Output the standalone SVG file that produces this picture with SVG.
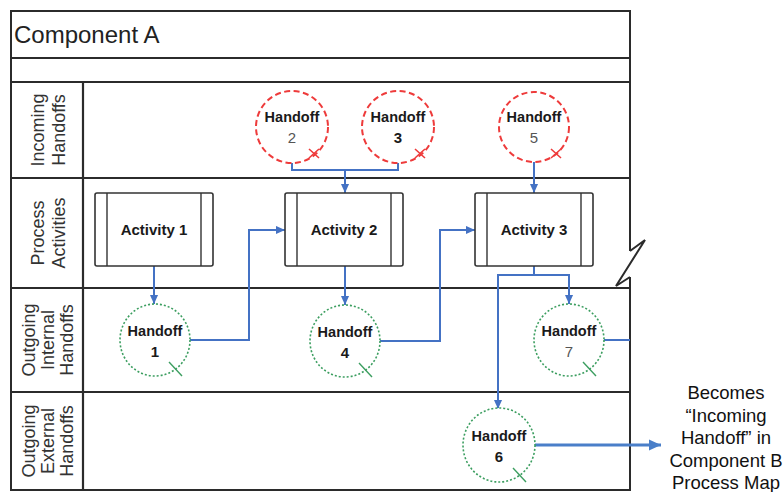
<svg xmlns="http://www.w3.org/2000/svg" width="783" height="492" viewBox="0 0 783 492">
<defs>
<marker id="ah" viewBox="0 0 10 10" refX="10" refY="5" markerWidth="9" markerHeight="9" markerUnits="userSpaceOnUse" orient="auto"><path d="M0,0.5 L10,5 L0,9.5 z" fill="#4472c4"/></marker>
<marker id="ahb" viewBox="0 0 10 10" refX="10" refY="5" markerWidth="12" markerHeight="12" markerUnits="userSpaceOnUse" orient="auto"><path d="M0,0.5 L10,5 L0,9.5 z" fill="#4a7fc9"/></marker>
</defs>
<style>
.frame{fill:none;stroke:#2b2b2b;stroke-width:2}
.lane{stroke:#2b2b2b;stroke-width:2.2;fill:none}
.lbl{font-family:"Liberation Sans",Arial,sans-serif;font-size:18px;fill:#333;text-anchor:middle}
.in{fill:#fff;stroke:#ee3b3b;stroke-width:2;stroke-dasharray:6 3.5}
.out{fill:#fff;stroke:#3c9e60;stroke-width:1.6;stroke-dasharray:2 2}
.xr{stroke:#ee3b3b;stroke-width:1.6}
.xg{stroke:#3c9e60;stroke-width:1.4}
.ht{font-family:"Liberation Sans",Arial,sans-serif;font-size:14.5px;font-weight:bold;fill:#1a1a1a;text-anchor:middle}
.hn{font-family:"Liberation Sans",Arial,sans-serif;font-size:15px;fill:#555;text-anchor:middle}
.hb{font-family:"Liberation Sans",Arial,sans-serif;font-size:15px;font-weight:bold;fill:#1a1a1a;text-anchor:middle}
.act{fill:#fff;stroke:#333;stroke-width:1.6}
.bar{stroke:#333;stroke-width:1.4}
.at{font-family:"Liberation Sans",Arial,sans-serif;font-size:15px;font-weight:bold;fill:#1a1a1a;text-anchor:middle}
.con{fill:none;stroke:#4472c4;stroke-width:2}
.side{font-family:"Liberation Sans",Arial,sans-serif;font-size:18.5px;fill:#111;text-anchor:middle}
</style>
<rect width="783" height="492" fill="#fff"/>
<g id="frame">
<path class="frame" d="M630,251 V11 H11 V490 H630 V277"/>
<path class="frame" d="M630,251 L645,240 L616,286 L630,277" stroke-linejoin="miter"/>
<line class="lane" x1="11" y1="58" x2="630" y2="58"/>
<line class="lane" x1="11" y1="82" x2="630" y2="82"/>
<line class="lane" x1="11" y1="178" x2="630" y2="178"/>
<line class="lane" x1="11" y1="288" x2="630" y2="288"/>
<line class="lane" x1="11" y1="392" x2="630" y2="392"/>
<line class="lane" x1="83" y1="82" x2="83" y2="490"/>
<text x="14" y="43" font-family="'Liberation Sans',Arial,sans-serif" font-size="24" fill="#222">Component A</text>
</g>
<g id="lane-labels">
<g transform="translate(0,130) rotate(-90)"><text class="lbl" x="0" y="44">Incoming</text><text class="lbl" x="0" y="65">Handoffs</text></g>
<g transform="translate(0,233) rotate(-90)"><text class="lbl" x="0" y="44">Process</text><text class="lbl" x="0" y="65">Activities</text></g>
<g transform="translate(0,340) rotate(-90)"><text class="lbl" x="0" y="34.5">Outgoing</text><text class="lbl" x="0" y="53.5">Internal</text><text class="lbl" x="0" y="72.5">Handoffs</text></g>
<g transform="translate(0,441) rotate(-90)"><text class="lbl" x="0" y="34.5">Outgoing</text><text class="lbl" x="0" y="53.5">External</text><text class="lbl" x="0" y="72.5">Handoffs</text></g>
</g>
<g id="connectors">
<path class="con" d="M292,163 V170 H398 V163"/>
<path class="con" d="M345,170 V193" marker-end="url(#ah)"/>
<path class="con" d="M534,162 V193" marker-end="url(#ah)"/>
<path class="con" d="M154,266 V304" marker-end="url(#ah)"/>
<path class="con" d="M190,340 H249 V230 H285" marker-end="url(#ah)"/>
<path class="con" d="M345,266 V305" marker-end="url(#ah)"/>
<path class="con" d="M380,341 H440 V230 H475" marker-end="url(#ah)"/>
<path class="con" d="M534,266 V275 H569 V304" marker-end="url(#ah)"/>
<path class="con" d="M534,275 H498 V409" marker-end="url(#ah)"/>
<path class="con" d="M604,340 H630"/>
<path fill="none" stroke="#4a7fc9" stroke-width="3" d="M535,445 H661" marker-end="url(#ahb)"/>
</g>
<g id="handoff2"><ellipse class="in" cx="292" cy="127" rx="36" ry="36"/><path class="xr" d="M309,149 L319,158 M319,149 L309,158"/><text class="ht" x="292" y="122">Handoff</text><text class="hn" x="292" y="143">2</text></g>
<g id="handoff3"><ellipse class="in" cx="398" cy="127" rx="36" ry="36"/><path class="xr" d="M415,149 L425,158 M425,149 L415,158"/><text class="ht" x="398" y="122">Handoff</text><text class="hb" x="398" y="143">3</text></g>
<g id="handoff5"><ellipse class="in" cx="534" cy="127" rx="35" ry="35"/><path class="xr" d="M551,149 L561,158 M561,149 L551,158"/><text class="ht" x="534" y="122">Handoff</text><text class="hn" x="534" y="143">5</text></g>
<g id="activity1"><rect class="act" x="95" y="193" width="118" height="73" rx="2"/><line class="bar" x1="107" y1="193" x2="107" y2="266"/><line class="bar" x1="201" y1="193" x2="201" y2="266"/><text class="at" x="154" y="235">Activity 1</text></g>
<g id="activity2"><rect class="act" x="285" y="193" width="118" height="73" rx="2"/><line class="bar" x1="297" y1="193" x2="297" y2="266"/><line class="bar" x1="391" y1="193" x2="391" y2="266"/><text class="at" x="344" y="235">Activity 2</text></g>
<g id="activity3"><rect class="act" x="475" y="193" width="118" height="73" rx="2"/><line class="bar" x1="487" y1="193" x2="487" y2="266"/><line class="bar" x1="581" y1="193" x2="581" y2="266"/><text class="at" x="534" y="235">Activity 3</text></g>
<g id="handoff1"><ellipse class="out" cx="155" cy="340" rx="35" ry="36"/><path class="xg" d="M169,362 L182,376"/><text class="ht" x="155" y="336">Handoff</text><text class="hb" x="155" y="357">1</text></g>
<g id="handoff4"><ellipse class="out" cx="345" cy="341" rx="35" ry="36"/><path class="xg" d="M359,363 L372,377"/><text class="ht" x="345" y="337">Handoff</text><text class="hb" x="345" y="358">4</text></g>
<g id="handoff7"><ellipse class="out" cx="569" cy="340" rx="35" ry="36"/><path class="xg" d="M583,362 L596,376"/><text class="ht" x="569" y="336">Handoff</text><text class="hn" x="569" y="357">7</text></g>
<g id="handoff6"><ellipse class="out" cx="499" cy="445" rx="36" ry="37"/><path class="xg" d="M513,468 L526,482"/><text class="ht" x="499" y="441">Handoff</text><text class="hb" x="499" y="462">6</text></g>
<g id="note">
<text class="side" x="726" y="399">Becomes</text>
<text class="side" x="726" y="422">“Incoming</text>
<text class="side" x="726" y="444">Handoff” in</text>
<text class="side" x="726" y="467">Component B</text>
<text class="side" x="726" y="489">Process Map</text>
</g>
</svg>
